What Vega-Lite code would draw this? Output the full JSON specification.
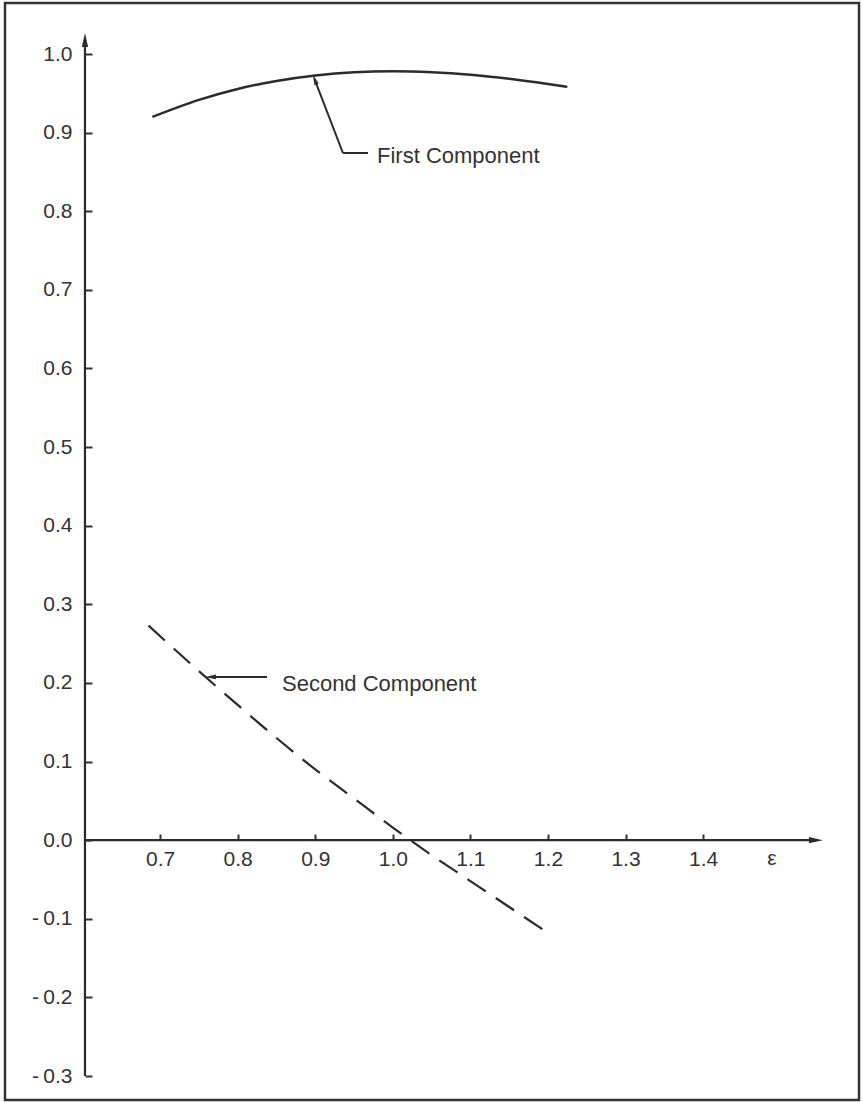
{
  "$schema": "https://vega.github.io/schema/vega-lite/v6.json",
  "width": 854,
  "height": 1097,
  "autosize": "none",
  "padding": {"left": 5, "top": 3, "right": 4, "bottom": 2},
  "background": "white",
  "config": {
    "view": {"stroke": "#333333", "strokeWidth": 2.5},
    "text": {"font": "Liberation Sans", "color": "#333333"}
  },
  "datasets": {
    "first": [
      {"eps": 0.69, "value": 0.920},
      {"eps": 0.75, "value": 0.9417},
      {"eps": 0.80, "value": 0.9556},
      {"eps": 0.85, "value": 0.9658},
      {"eps": 0.90, "value": 0.9728},
      {"eps": 0.95, "value": 0.9768},
      {"eps": 1.00, "value": 0.978},
      {"eps": 1.05, "value": 0.9768},
      {"eps": 1.10, "value": 0.9736},
      {"eps": 1.15, "value": 0.9684},
      {"eps": 1.20, "value": 0.9618},
      {"eps": 1.225, "value": 0.9582}
    ],
    "second": [
      {"eps": 0.685, "value": 0.273},
      {"eps": 0.75, "value": 0.215},
      {"eps": 0.80, "value": 0.172},
      {"eps": 0.85, "value": 0.130},
      {"eps": 0.90, "value": 0.090},
      {"eps": 0.95, "value": 0.053},
      {"eps": 1.00, "value": 0.016},
      {"eps": 1.05, "value": -0.019},
      {"eps": 1.10, "value": -0.052},
      {"eps": 1.15, "value": -0.085},
      {"eps": 1.20, "value": -0.118}
    ],
    "axislines": [
      {"x1": 0.6031, "y1": -0.3, "x2": 0.6031, "y2": 1.015},
      {"x1": 0.6031, "y1": 0.0, "x2": 1.545, "y2": 0.0}
    ],
    "leaders": [
      {"x1": 0.8990, "y1": 0.968, "x2": 0.9357, "y2": 0.8741},
      {"x1": 0.9357, "y1": 0.8741, "x2": 0.9680, "y2": 0.8741},
      {"x1": 0.7640, "y1": 0.2077, "x2": 0.8378, "y2": 0.2077}
    ],
    "labels": [
      {"eps": 0.9796, "value": 0.8614, "text": "First Component"},
      {"eps": 0.8571, "value": 0.1897, "text": "Second Component"}
    ],
    "axisname": [
      {"eps": 1.4888, "value": -0.0316, "text": "ε"}
    ],
    "yarrow": [{"eps": 0.6031, "value": 1.0267}],
    "xarrow": [{"eps": 1.5545, "value": 0.0}],
    "arrow1": [{"eps": 0.8971, "value": 0.9733}],
    "arrow2": [{"eps": 0.7578, "value": 0.2077}]
  },
  "layer": [
    {
      "data": {"name": "first"},
      "mark": {"type": "line", "color": "#2b2b2b", "strokeWidth": 2.5, "interpolate": "monotone"},
      "encoding": {
        "x": {
          "field": "eps", "type": "quantitative",
          "scale": {"domain": [0.5, 1.601], "nice": false, "zero": false},
          "axis": {
            "orient": "bottom", "offset": -260, "values": [0.7, 0.8, 0.9, 1.0, 1.1, 1.2, 1.3, 1.4],
            "format": ".1f", "domain": false, "grid": false, "title": null,
            "tickSize": -6, "tickWidth": 2, "tickColor": "#333333",
            "labelFont": "Liberation Sans", "labelFontSize": 21, "labelColor": "#333333",
            "labelPadding": 14, "labelFlush": false, "labelOverlap": false
          }
        },
        "y": {
          "field": "value", "type": "quantitative",
          "scale": {"domain": [-0.3305, 1.0649], "nice": false, "zero": false},
          "axis": {
            "orient": "left", "offset": -80,
            "values": [-0.3, -0.2, -0.1, 0.0, 0.1, 0.2, 0.3, 0.4, 0.5, 0.6, 0.7, 0.8, 0.9, 1.0],
            "labelExpr": "datum.value < 0 ? '-\u2009' + format(-datum.value, '.1f') : format(datum.value, '.1f')",
            "domain": false, "grid": false, "title": null,
            "tickSize": -7, "tickWidth": 2, "tickColor": "#333333",
            "labelFont": "Liberation Sans", "labelFontSize": 21, "labelColor": "#333333",
            "labelPadding": 20, "labelFlush": false, "labelOverlap": false
          }
        }
      }
    },
    {
      "data": {"name": "second"},
      "mark": {"type": "line", "color": "#2b2b2b", "strokeWidth": 2.2, "strokeDash": [22, 12], "interpolate": "monotone"},
      "encoding": {
        "x": {"field": "eps", "type": "quantitative"},
        "y": {"field": "value", "type": "quantitative"}
      }
    },
    {
      "data": {"name": "axislines"},
      "mark": {"type": "rule", "color": "#2b2b2b", "strokeWidth": 2.2},
      "encoding": {
        "x": {"field": "x1", "type": "quantitative"},
        "y": {"field": "y1", "type": "quantitative"},
        "x2": {"field": "x2"},
        "y2": {"field": "y2"}
      }
    },
    {
      "data": {"name": "leaders"},
      "mark": {"type": "rule", "color": "#2b2b2b", "strokeWidth": 2},
      "encoding": {
        "x": {"field": "x1", "type": "quantitative"},
        "y": {"field": "y1", "type": "quantitative"},
        "x2": {"field": "x2"},
        "y2": {"field": "y2"}
      }
    },
    {
      "data": {"name": "labels"},
      "mark": {"type": "text", "align": "left", "baseline": "alphabetic", "fontSize": 22, "font": "Liberation Sans", "color": "#333333"},
      "encoding": {
        "x": {"field": "eps", "type": "quantitative"},
        "y": {"field": "value", "type": "quantitative"},
        "text": {"field": "text"}
      }
    },
    {
      "data": {"name": "axisname"},
      "mark": {"type": "text", "align": "center", "baseline": "alphabetic", "fontSize": 21, "font": "Liberation Sans", "color": "#333333"},
      "encoding": {
        "x": {"field": "eps", "type": "quantitative"},
        "y": {"field": "value", "type": "quantitative"},
        "text": {"field": "text"}
      }
    },
    {
      "data": {"name": "yarrow"},
      "mark": {"type": "point", "shape": "M0,0L-0.45,2L0.45,2Z", "filled": true, "color": "#2b2b2b", "opacity": 1, "size": 196, "angle": 0},
      "encoding": {
        "x": {"field": "eps", "type": "quantitative"},
        "y": {"field": "value", "type": "quantitative"}
      }
    },
    {
      "data": {"name": "xarrow"},
      "mark": {"type": "point", "shape": "M0,0L-0.45,2L0.45,2Z", "filled": true, "color": "#2b2b2b", "opacity": 1, "size": 196, "angle": 90},
      "encoding": {
        "x": {"field": "eps", "type": "quantitative"},
        "y": {"field": "value", "type": "quantitative"}
      }
    },
    {
      "data": {"name": "arrow1"},
      "mark": {"type": "point", "shape": "M0,0L-0.45,2L0.45,2Z", "filled": true, "color": "#2b2b2b", "opacity": 1, "size": 100, "angle": 339},
      "encoding": {
        "x": {"field": "eps", "type": "quantitative"},
        "y": {"field": "value", "type": "quantitative"}
      }
    },
    {
      "data": {"name": "arrow2"},
      "mark": {"type": "point", "shape": "M0,0L-0.45,2L0.45,2Z", "filled": true, "color": "#2b2b2b", "opacity": 1, "size": 120, "angle": 270},
      "encoding": {
        "x": {"field": "eps", "type": "quantitative"},
        "y": {"field": "value", "type": "quantitative"}
      }
    }
  ]
}
